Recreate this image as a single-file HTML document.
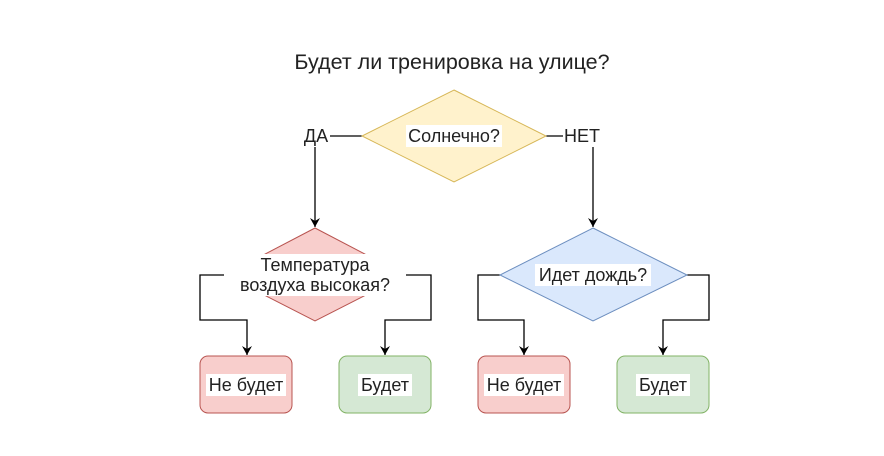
<!DOCTYPE html>
<html><head><meta charset="utf-8"><style>
html,body{margin:0;padding:0;background:#fff;width:884px;height:456px;overflow:hidden}
text{font-family:"Liberation Sans",sans-serif;fill:#222}
</style></head><body>
<svg width="884" height="456" viewBox="0 0 884 456" xmlns="http://www.w3.org/2000/svg">
<defs><marker id="a" markerWidth="10" markerHeight="10" refX="9" refY="5" orient="auto" markerUnits="userSpaceOnUse"><path d="M0,0 L9,5 L0,10 L3,5 Z" fill="#000"/></marker></defs>
<text x="452" y="69" font-size="21.5" text-anchor="middle">Будет ли тренировка на улице?</text>
<g stroke="#000" stroke-width="1.3" fill="none">
<line x1="330" y1="136" x2="362" y2="136"/>
<line x1="546" y1="136" x2="563" y2="136"/>
<line x1="315" y1="147" x2="315" y2="227" marker-end="url(#a)"/>
<line x1="593" y1="147" x2="593" y2="227" marker-end="url(#a)"/>
<polyline points="225,275 200,275 200,320 247,320 247,355" marker-end="url(#a)"/>
<polyline points="405,275 431,275 431,320 385,320 385,355" marker-end="url(#a)"/>
<polyline points="500,275 478,275 478,320 524,320 524,355" marker-end="url(#a)"/>
<polyline points="687,275 709,275 709,320 663,320 663,355" marker-end="url(#a)"/>
</g>
<polygon points="454,90 546,136 454,182 362,136" fill="#fff2cc" stroke="#d6b656"/>
<polygon points="315,228 405,275 315,321 225,275" fill="#f8cecc" stroke="#b85450"/>
<polygon points="593,228 687,275 593,321 500,275" fill="#dae8fc" stroke="#6c8ebf"/>
<rect x="200" y="356" width="92" height="57" rx="8" fill="#f8cecc" stroke="#b85450"/>
<rect x="339" y="356" width="92" height="57" rx="8" fill="#d5e8d4" stroke="#82b366"/>
<rect x="478" y="356" width="92" height="57" rx="8" fill="#f8cecc" stroke="#b85450"/>
<rect x="617" y="356" width="92" height="57" rx="8" fill="#d5e8d4" stroke="#82b366"/>
<g fill="#fff">
<rect x="406" y="125" width="96" height="22"/>
<rect x="224" y="254" width="182" height="42"/>
<rect x="535" y="264" width="116" height="22"/>
<rect x="206" y="374" width="80" height="22"/>
<rect x="358" y="374" width="54" height="22"/>
<rect x="484" y="374" width="80" height="22"/>
<rect x="636" y="374" width="54" height="22"/>
</g>
<g font-size="18" text-anchor="middle">
<text x="316" y="142">ДА</text>
<text x="582" y="142">НЕТ</text>
<text x="454" y="142">Солнечно?</text>
<text x="315" y="271">Температура</text>
<text x="315" y="291">воздуха высокая?</text>
<text x="593" y="281">Идет дождь?</text>
<text x="246" y="391">Не будет</text>
<text x="385" y="391">Будет</text>
<text x="524" y="391">Не будет</text>
<text x="663" y="391">Будет</text>
</g>
</svg>
</body></html>
